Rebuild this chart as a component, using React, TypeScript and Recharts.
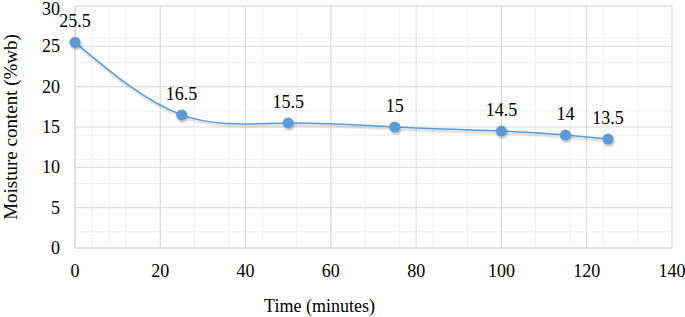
import { LineChart, Line, XAxis, YAxis, CartesianGrid, LabelList } from 'recharts'

// ── Data ─────────────────────────────────────────────────────────────────────

const TIMES = [0, 25, 50, 75, 100, 115, 125]
const MOISTURE = [25.5, 16.5, 15.5, 15, 14.5, 14, 13.5]

const X_TICKS = [0, 20, 40, 60, 80, 100, 120, 140]
const Y_TICKS = [0, 5, 10, 15, 20, 25, 30]
const X_MINOR = Array.from({ length: 36 }, (_, i) => i * 4)
const Y_MINOR = Array.from({ length: 31 }, (_, i) => i)

const data = TIMES.map((t, i) => ({ time: t, moisture: MOISTURE[i] }))

// ── Styles ───────────────────────────────────────────────────────────────────

const FONT = 'Liberation Serif'
const BLUE = '#5b9bd5'
const MAJOR = '#d9d9d9'
const MINOR = '#efefef'
const TXT = { fontFamily: FONT, fontSize: 18, fill: '#000' }

// ── Custom text pieces ───────────────────────────────────────────────────────

function XTick({ x, y, payload }: any) {
  return (
    <text x={x} y={y} dy={13} textAnchor="middle" style={TXT}>
      {payload.value}
    </text>
  )
}

function YTick({ x, y, payload }: any) {
  return (
    <text x={x} y={y} dy={6} textAnchor="end" style={TXT}>
      {payload.value}
    </text>
  )
}

function PointLabel({ x, y, value }: any) {
  return (
    <text x={x} y={y} dy={-15} textAnchor="middle" style={TXT}>
      {value}
    </text>
  )
}

export default function App() {
  return (
    <div style={{ position: 'fixed', left: 0, top: 0, width: 685, height: 317, background: '#fff' }}>
      <LineChart width={685} height={317} data={data} margin={{ top: 6, right: 13, left: 0, bottom: 0 }}>
        <defs>
          <filter id="shadow" x="-20%" y="-20%" width="140%" height="140%">
            <feDropShadow dx="1" dy="2" stdDeviation="1.2" floodColor="#000" floodOpacity="0.25" />
          </filter>
        </defs>
        <CartesianGrid stroke={MINOR} verticalValues={X_MINOR} horizontalValues={Y_MINOR} />
        <CartesianGrid stroke={MAJOR} verticalValues={X_TICKS} horizontalValues={Y_TICKS} fill="none" />
        <XAxis
          dataKey="time"
          type="number"
          domain={[0, 140]}
          ticks={X_TICKS}
          tick={<XTick />}
          tickSize={0}
          tickMargin={16}
          stroke={MAJOR}
          height={69}
          label={{
            content: (p: any) => (
              <text x={p.viewBox.x + p.viewBox.width / 2 - 54} y={p.viewBox.y + 64} textAnchor="middle" style={TXT}>
                Time (minutes)
              </text>
            ),
          }}
        />
        <YAxis
          type="number"
          domain={[0, 30]}
          ticks={Y_TICKS}
          tick={<YTick />}
          tickSize={0}
          tickMargin={15}
          stroke={MAJOR}
          width={75}
          label={{
            value: 'Moisture content (%wb)',
            angle: -90,
            position: 'insideLeft',
            offset: 10,
            style: { textAnchor: 'middle', fontSize: 19, fontFamily: FONT, fill: '#000' },
          }}
        />
        <Line
          type="natural"
          dataKey="moisture"
          stroke={BLUE}
          strokeWidth={1.5}
          filter="url(#shadow)"
          dot={{ r: 5.5, fill: BLUE, stroke: BLUE, strokeWidth: 0 }}
          activeDot={false}
          isAnimationActive={false}
        >
          <LabelList dataKey="moisture" content={<PointLabel />} />
        </Line>
      </LineChart>
    </div>
  )
}
